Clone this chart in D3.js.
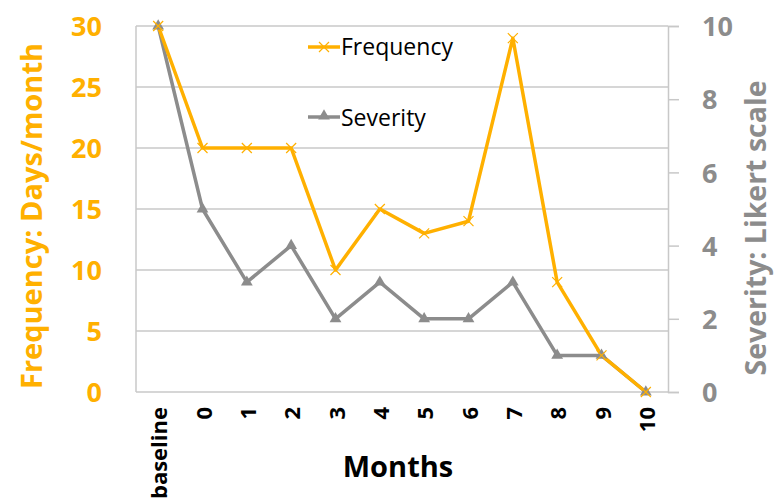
<!DOCTYPE html>
<html>
<head>
<meta charset="utf-8">
<script src="https://cdn.jsdelivr.net/npm/d3@7"></script>
<style>
  body { margin: 0; background: #fff; }
  text { font-family: "Open Sans", "DejaVu Sans", sans-serif; }
</style>
</head>
<body>
<svg id="chart" width="774" height="498"></svg>
<script>
// DATA
const months = ["baseline", "0", "1", "2", "3", "4", "5", "6", "7", "8", "9", "10"];
const frequency = [30, 20, 20, 20, 10, 15, 13, 14, 29, 9, 3, 0];
const severity = [10, 5, 3, 4, 2, 3, 2, 2, 3, 1, 1, 0];
const freqTicks = [0, 5, 10, 15, 20, 25, 30];
const sevTicks = [0, 2, 4, 6, 8, 10];

// CONSTANTS
const orange = "#FFB000";
const gray = "#8C8C8C";
const gridColor = "#C8C8C8";
const plotLeft = 136, plotRight = 668, plotTop = 26, plotBottom = 392;

const svg = d3.select("#chart");

const x = d3.scaleBand().domain(months).range([plotLeft, plotRight]);
const yF = d3.scaleLinear().domain([0, 30]).range([plotBottom, plotTop]);
const yS = d3.scaleLinear().domain([0, 10]).range([plotBottom, plotTop]);
const cx = (d) => x(d) + x.bandwidth() / 2;

// gridlines
svg.append("g")
  .selectAll("line")
  .data(freqTicks)
  .join("line")
  .attr("x1", plotLeft)
  .attr("x2", plotRight)
  .attr("y1", (d) => yF(d))
  .attr("y2", (d) => yF(d))
  .attr("stroke", gridColor)
  .attr("stroke-width", 1.5);

// left axis line
svg.append("line")
  .attr("x1", plotLeft).attr("x2", plotLeft)
  .attr("y1", plotTop).attr("y2", plotBottom)
  .attr("stroke", gridColor).attr("stroke-width", 1.5);

// right axis (line + outward ticks)
const rightAxis = svg.append("g")
  .attr("transform", `translate(${plotRight},0)`)
  .call(d3.axisRight(yS).tickValues(sevTicks).tickSize(11).tickPadding(23));
rightAxis.select(".domain").attr("stroke", gridColor).attr("stroke-width", 1.5);
rightAxis.selectAll(".tick line").attr("stroke", gridColor).attr("stroke-width", 1.5);
rightAxis.selectAll(".tick text")
  .attr("fill", gray)
  .attr("font-size", 27)
  .attr("font-family", "Open Sans, sans-serif")
  .style("font-weight", "bold")
  .attr("dy", "0.36em");

// left tick labels
const leftAxis = svg.append("g")
  .attr("transform", `translate(${plotLeft},0)`)
  .call(d3.axisLeft(yF).tickValues(freqTicks).tickSize(0).tickPadding(34));
leftAxis.select(".domain").remove();
leftAxis.selectAll(".tick text")
  .attr("fill", orange)
  .attr("font-size", 27)
  .attr("font-family", "Open Sans, sans-serif")
  .style("font-weight", "bold")
  .attr("dy", "0.36em");

// x labels (rotated)
svg.append("g")
  .selectAll("text")
  .data(months)
  .join("text")
  .attr("transform", (d) => `translate(${cx(d) + 9},${407}) rotate(-90)`)
  .attr("text-anchor", "end")
  .attr("font-size", 22)
  .style("font-weight", "bold")
  .attr("fill", "#000")
  .text((d) => d);

// axis titles
svg.append("text")
  .attr("transform", `translate(${42},${216}) rotate(-90)`)
  .attr("text-anchor", "middle")
  .attr("font-size", 29)
  .style("font-weight", "bold")
  .attr("fill", orange)
  .text("Frequency: Days/month");

svg.append("text")
  .attr("transform", `translate(${766},${228}) rotate(-90)`)
  .attr("text-anchor", "middle")
  .attr("font-size", 28.5)
  .style("font-weight", "bold")
  .attr("fill", gray)
  .text("Severity: Likert scale");

svg.append("text")
  .attr("x", 398)
  .attr("y", 477)
  .attr("text-anchor", "middle")
  .attr("font-size", 29)
  .style("font-weight", "bold")
  .attr("fill", "#000")
  .text("Months");

// LINES
const lineF = d3.line().x((d, i) => cx(months[i])).y((d) => yF(d));
const lineS = d3.line().x((d, i) => cx(months[i])).y((d) => yS(d));

svg.append("path")
  .attr("d", lineS(severity))
  .attr("fill", "none")
  .attr("stroke", gray)
  .attr("stroke-width", 3.5)
  .attr("stroke-linejoin", "round");

svg.append("path")
  .attr("d", lineF(frequency))
  .attr("fill", "none")
  .attr("stroke", orange)
  .attr("stroke-width", 3.5)
  .attr("stroke-linejoin", "round");

const tri = d3.symbol().type(d3.symbolTriangle).size(60);

function drawX(g, px, py) {
  const s = 5;
  g.append("path")
    .attr("d", `M${px - s},${py - s}L${px + s},${py + s}M${px - s},${py + s}L${px + s},${py - s}`)
    .attr("stroke", orange)
    .attr("stroke-width", 1.2)
    .attr("fill", "none");
}

const markers = svg.append("g");
severity.forEach((v, i) => {
  markers.append("path")
    .attr("d", tri())
    .attr("transform", `translate(${cx(months[i])},${yS(v)})`)
    .attr("fill", gray);
});
frequency.forEach((v, i) => {
  drawX(markers, cx(months[i]), yF(v));
});

// LEGEND
const legend = svg.append("g");
legend.append("line")
  .attr("x1", 308).attr("x2", 340).attr("y1", 47).attr("y2", 47)
  .attr("stroke", orange).attr("stroke-width", 3.5);
drawX(legend, 324, 47);
legend.append("text")
  .attr("x", 341).attr("y", 55)
  .attr("font-size", 23)
  .attr("fill", "#000")
  .text("Frequency");

legend.append("line")
  .attr("x1", 308).attr("x2", 340).attr("y1", 117).attr("y2", 117)
  .attr("stroke", gray).attr("stroke-width", 3.5);
legend.append("path")
  .attr("d", tri())
  .attr("transform", "translate(324,116)")
  .attr("fill", gray);
legend.append("text")
  .attr("x", 341).attr("y", 126)
  .attr("font-size", 23)
  .attr("fill", "#000")
  .text("Severity");
</script>
</body>
</html>
